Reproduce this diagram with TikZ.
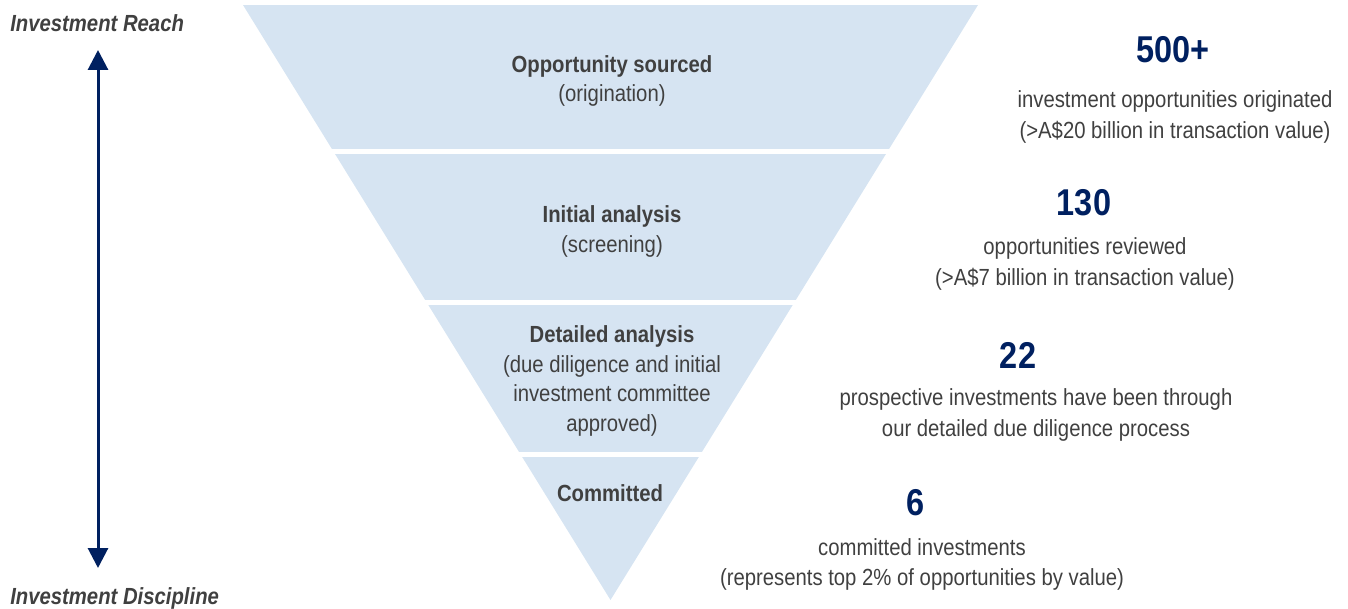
\documentclass[tikz,border=0pt]{standalone}
\usepackage{fontspec}
\setmainfont[FakeStretch=0.87]{Liberation Sans}
\usetikzlibrary{positioning,arrows.meta}
\definecolor{funnelblue}{RGB}{214,228,242}
\definecolor{navy}{RGB}{0,32,96}
\definecolor{textgray}{RGB}{64,64,64}

\begin{document}
\begin{tikzpicture}[x=0.75pt, y=-0.75pt, every node/.style={align=center, text=textgray, inner sep=0pt}]
    \tikzset{
      stage/.style={font=\fontsize{17.5}{22.2}\selectfont},
      count/.style={font=\bfseries\fontsize{28}{30}\selectfont, text=navy},
      note/.style={font=\fontsize{17.5}{23}\selectfont},
      axislabel/.style={font=\bfseries\itshape\fontsize{17.5}{22}\selectfont, anchor=west},
      funnel/.style={fill=funnelblue},
      twoway/.style={draw=navy, line width=2.25pt, {Triangle[length=15pt,width=15pt]}-{Triangle[length=15pt,width=15pt]}}
    }
    \useasboundingbox (0,0) rectangle (1348,609);
    \begin{scope}
      \clip (243,5) -- (978,5) -- (610.5,600) -- cycle;
      \foreach \top/\bot in {5/149, 154/300, 305/452, 457/601}
        \fill[funnel] (200,\top) rectangle (1000,\bot);
    \end{scope}
    \node[stage] (sourced) at (612,81) {\textbf{Opportunity sourced}\\(origination)};
    \node[stage] (initial) at (612,231.5) {\textbf{Initial analysis}\\(screening)};
    \node[stage] (detailed) at (612,381) {\textbf{Detailed analysis}\\(due diligence and initial\\investment committee\\approved)};
    \node[stage] (committed) at (610,493) {\textbf{Committed}};
    \node[count] (n500) at (1173,50) {500+};
    \node[note] (t500) at (1175,117) {investment opportunities originated\\(>A\$20 billion in transaction value)};
    \node[count] (n130) at (1084,203) {130};
    \node[note] (t130) at (1085,264) {opportunities reviewed\\(>A\$7 billion in transaction value)};
    \node[count] (n22) at (1018,355) {22};
    \node[note] (t22) at (1036,415) {prospective investments have been through\\our detailed due diligence process};
    \node[count] (n6) at (916,503) {6};
    \node[note] (t6) at (922,564.5) {committed investments\\(represents top 2\% of opportunities by value)};
    \node[axislabel] (reach) at (10,23) {Investment Reach};
    \node[axislabel] (discipline) at (10,598) {Investment Discipline};
    \coordinate (reachend) at (98,50);
    \coordinate (disciplineend) at (98,568);
    \draw[twoway] (reachend) -- (disciplineend);
  \end{tikzpicture}
\end{document}
